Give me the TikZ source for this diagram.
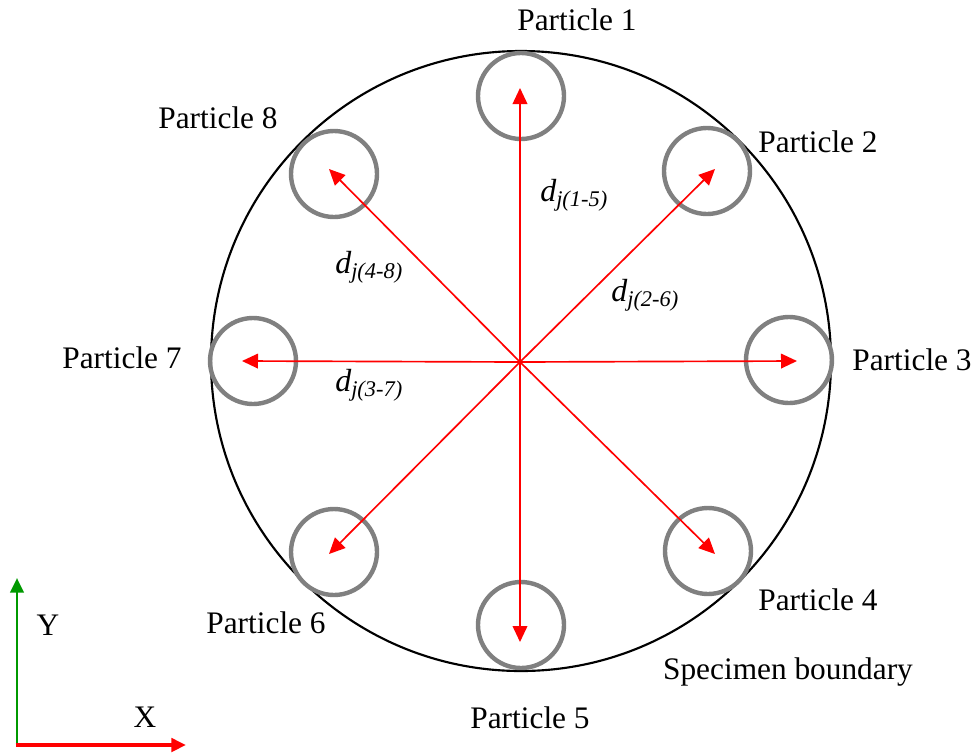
\documentclass[tikz,border=0pt]{standalone}
\usepackage{fontspec}
\setmainfont{Liberation Serif}
\usetikzlibrary{arrows.meta}
\definecolor{pgray}{RGB}{128,128,128}
\definecolor{axgreen}{RGB}{0,153,0}
\definecolor{axred}{RGB}{255,0,0}
\tikzset{
  particle/.style={circle, draw=pgray, line width=3.3pt, minimum size=64.5pt, inner sep=0pt},
  boundary/.style={circle, draw=black, line width=1.6pt, minimum size=465pt, inner sep=0pt},
  darrow/.style={draw=red, line width=1.25pt, -{Triangle[length=12pt,width=11pt]}},
  lbl/.style={font=\fontsize{23.5}{28}\selectfont, inner sep=0pt},
  dlbl/.style={font=\fontsize{24}{28}\selectfont\itshape, inner sep=0pt},
}
\newcommand{\dlab}[1]{d\textsubscript{j(#1)}}
\begin{document}
\begin{tikzpicture}[x=0.75pt,y=-0.75pt]
\useasboundingbox (0,0) rectangle (978,754);
% boundary
\node[boundary] (bound) at (521,361) {};
% center
\coordinate (c) at (520,362);
% particles
\node[particle] (p1) at (521,96) {};
\node[particle] (p2) at (707,171) {};
\node[particle] (p3) at (789,360) {};
\node[particle] (p4) at (708,551) {};
\node[particle] (p5) at (521,625) {};
\node[particle] (p6) at (334,552) {};
\node[particle] (p7) at (253,361) {};
\node[particle] (p8) at (334,174) {};
% arrow tips
\coordinate (t1) at (520,88);
\coordinate (t2) at (715,169);
\coordinate (t3) at (797,361);
\coordinate (t4) at (715,554);
\coordinate (t5) at (520,642);
\coordinate (t6) at (329,554);
\coordinate (t7) at (242,361);
\coordinate (t8) at (329,169);
\foreach \t in {t1,t2,t3,t4,t5,t6,t7,t8} \draw[darrow] (c) -- (\t);
% particle labels
\node[lbl] (l1) at (577,20) {Particle 1};
\node[lbl] (l2) at (818,142) {Particle 2};
\node[lbl] (l3) at (912,360) {Particle 3};
\node[lbl] (l4) at (818,600) {Particle 4};
\node[lbl] (l5) at (530,718) {Particle 5};
\node[lbl] (l6) at (266,623) {Particle 6};
\node[lbl] (l7) at (122,358) {Particle 7};
\node[lbl] (l8) at (218,118) {Particle 8};
\node[lbl] (lb) at (788,672) {Specimen boundary};
% distance labels
\node[dlbl, anchor=west] (d15) at (540,195) {\dlab{1-5}};
\node[dlbl, anchor=west] (d26) at (611,295) {\dlab{2-6}};
\node[dlbl, anchor=west] (d48) at (335,267) {\dlab{4-8}};
\node[dlbl, anchor=west] (d37) at (335,385) {\dlab{3-7}};
% axes
\coordinate (o) at (17,745);
\coordinate (yt) at (17,578);
\coordinate (xt) at (186,745);
\draw[axgreen, line width=2.2pt, -{Triangle[length=11pt,width=10pt]}] (o) -- (yt);
\draw[axred, line width=3pt, -{Triangle[length=11pt,width=10pt]}] ([xshift=-1.1pt]o) -- (xt);
\node[lbl] (ly) at (48,625) {Y};
\node[lbl] (lx) at (145,717) {X};
\end{tikzpicture}
\end{document}
